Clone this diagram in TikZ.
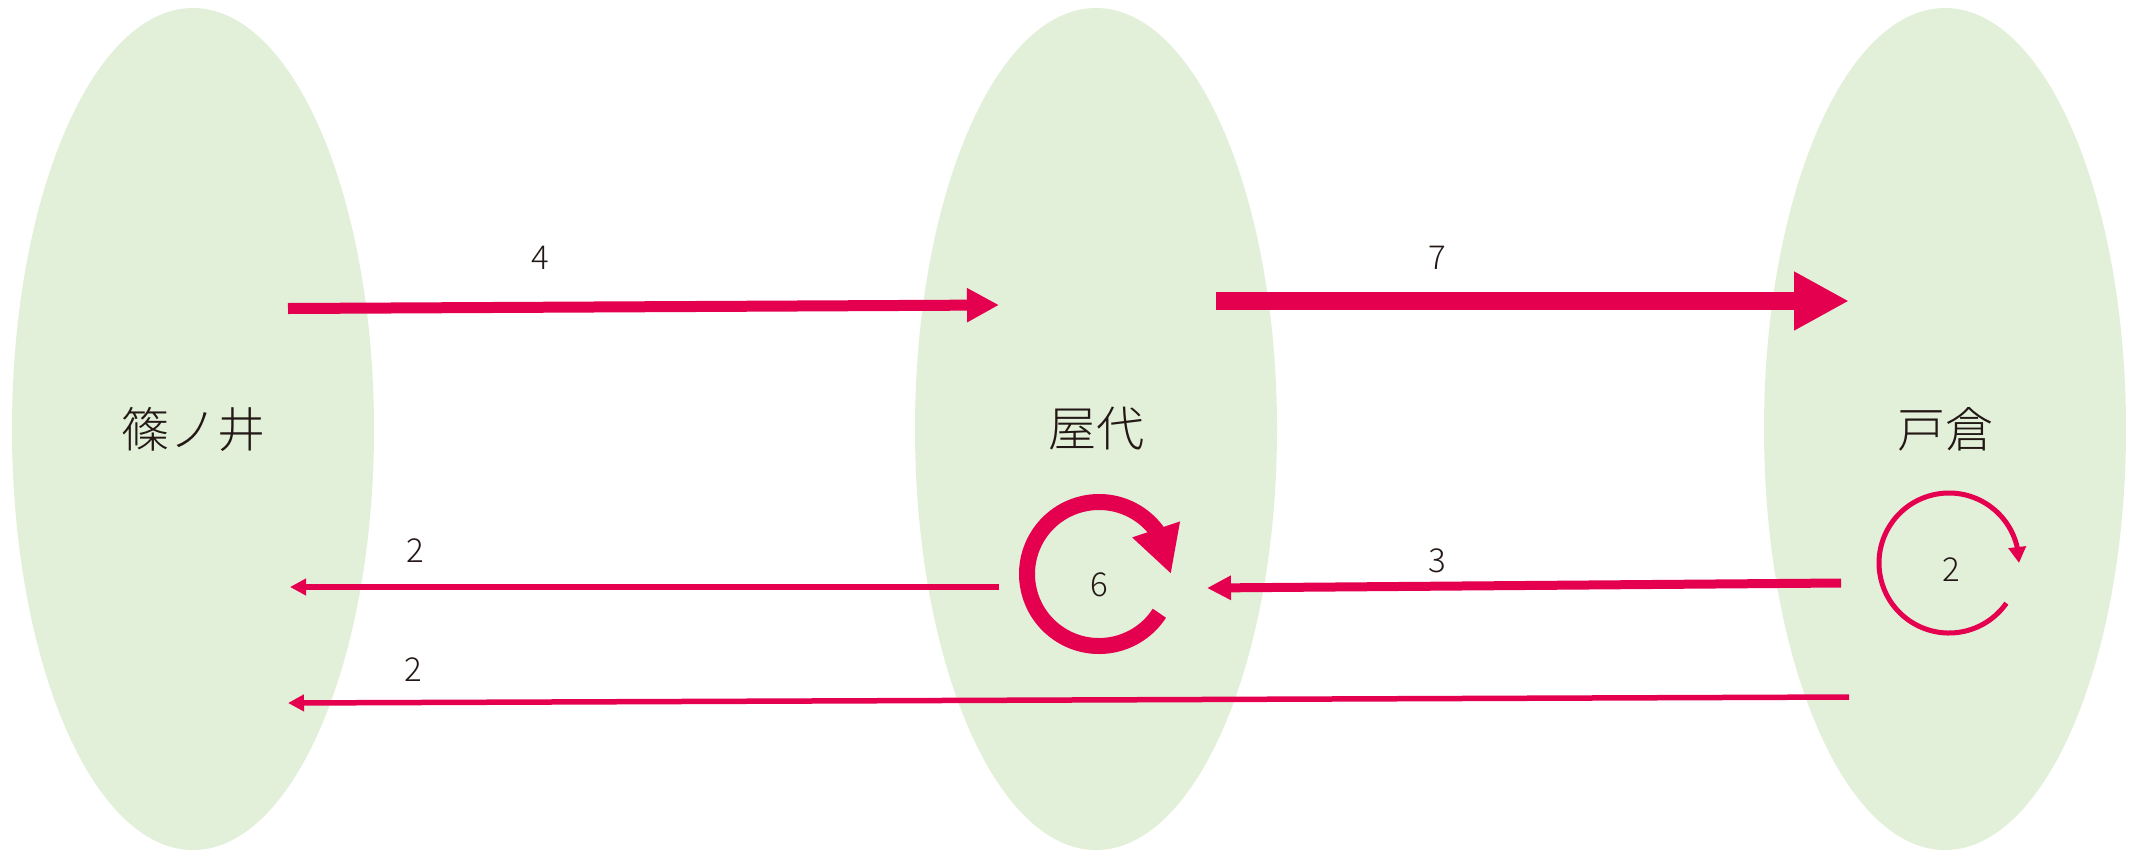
\documentclass[tikz,border=0pt]{standalone}
\usepackage{fontspec}
\setmainfont{Noto Sans CJK JP}[UprightFont={* Light}]
\usetikzlibrary{arrows.meta,bending,shapes.geometric}
\definecolor{regionfill}{HTML}{E2EFD9}
\definecolor{flow}{HTML}{E4004F}
\definecolor{ink}{HTML}{231815}
\begin{document}
\begin{tikzpicture}[x=0.5pt,y=-0.5pt,
  region/.style={ellipse,fill=regionfill,draw=none,minimum width=181pt,minimum height=421pt,inner sep=0pt,text=ink,font=\fontsize{24}{24}\selectfont},
  num/.style={inner sep=0pt,text=ink,font=\fontsize{16.5}{16.5}\selectfont},
  flowline/.style={draw=flow,line cap=butt}
]
\useasboundingbox (0,0) rectangle (2129,857);

% regions
\node[region] (S) at (193,429) {篠ノ井};
\node[region] (Y) at (1096,429) {屋代};
\node[region] (T) at (1945,429) {戸倉};

% connector ends
\coordinate (a4s) at (288,308.5);
\coordinate (a4e) at (999,305);
\coordinate (a7s) at (1216,301);
\coordinate (a7e) at (1849,301);
\coordinate (a2as) at (999,587);
\coordinate (a2ae) at (290,587);
\coordinate (a3s) at (1841,583);
\coordinate (a3e) at (1207,588);
\coordinate (a2bs) at (1849,697);
\coordinate (a2be) at (288,703);
\coordinate (Yloop) at (1099,574);
\coordinate (Tloop) at (1949,563);

% flows
\draw[flowline,line width=5.5pt,-{Triangle[length=16pt,width=16pt]}] (a4s) -- (a4e);
\draw[flowline,line width=9pt,-{Triangle[length=27.5pt,width=27.5pt]}] (a7s) -- (a7e);
\draw[flowline,line width=2.75pt,-{Triangle[length=8pt,width=8pt]}] (a2as) -- (a2ae);
\draw[flowline,line width=4.5pt,-{Triangle[length=12pt,width=11.5pt]}] (a3s) -- (a3e);
\draw[flowline,line width=2.75pt,-{Triangle[length=8pt,width=8pt]}] (a2bs) -- (a2be);

% self loops
\draw[flowline,line width=8pt,-{Triangle[length=23.5pt,width=23.5pt,flex]}]
  ([shift={(33:72)}]Yloop) arc[start angle=33,end angle=360,radius=72];
\draw[flowline,line width=2.5pt,-{Triangle[length=8pt,width=8.5pt,flex]}]
  ([shift={(35:70)}]Tloop) arc[start angle=35,end angle=360,radius=70];

% labels
\node[num] (l4) at (540,258) {4};
\node[num] (l7) at (1437,258) {7};
\node[num] (l2a) at (415,551) {2};
\node[num] (l3) at (1437,561) {3};
\node[num] (l2b) at (413,670) {2};
\node[num] (l6) at (1099,585) {6};
\node[num] (l2c) at (1951,570) {2};
\end{tikzpicture}
\end{document}
